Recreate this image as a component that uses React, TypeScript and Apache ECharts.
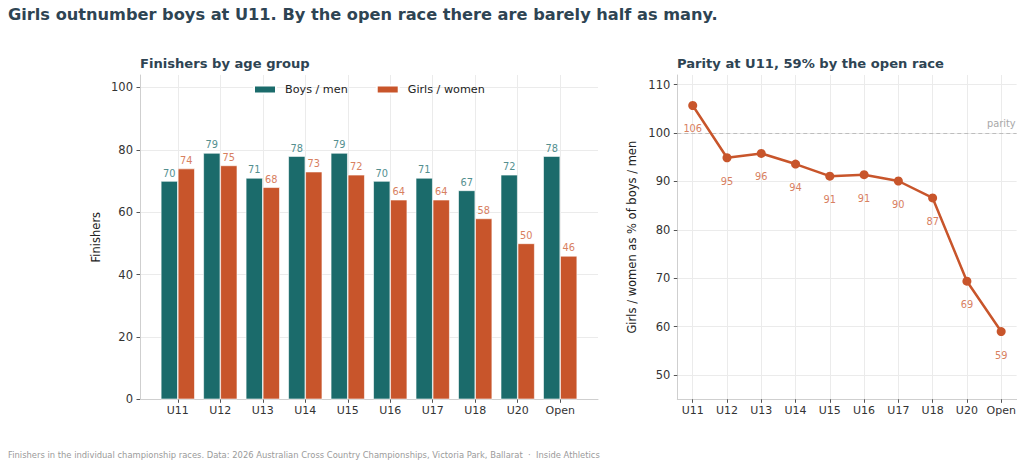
import React, { useEffect, useRef } from 'react';
import * as echarts from 'echarts';

// age groups, boys and girls finishers, and girls as % of boys
const ageGroups = ['U11', 'U12', 'U13', 'U14', 'U15', 'U16', 'U17', 'U18', 'U20', 'Open'];
const boys = [70, 79, 71, 78, 79, 70, 71, 67, 72, 78];
const girls = [74, 75, 68, 73, 72, 64, 64, 58, 50, 46];
const parityPct = [105.7, 94.9, 95.8, 93.6, 91.1, 91.4, 90.1, 86.6, 69.4, 59.0];
const countTicks = [0, 20, 40, 60, 80, 100];
const pctTicks = [50, 60, 70, 80, 90, 100, 110];

const TEAL = '#1b6b6b';
const ORANGE = '#c8552b';
const FONT = 'DejaVu Sans';
const GRID = '#ebebeb';
const SPINE = '#cfcfcf';
const INK = '#2e4453';

const catIdx = ageGroups.map((_, i) => i);

const App: React.FC = () => {
  const chartRef = useRef<HTMLDivElement | null>(null);

  useEffect(() => {
    document.body.style.margin = '0';
    if (!chartRef.current) return;
    const chart = echarts.init(chartRef.current, undefined, { renderer: 'svg' });

    const xAxisBase = (gridIndex: number, min: number, max: number) => ({
      type: 'value',
      gridIndex,
      min,
      max,
      axisLine: { show: true, onZero: false, lineStyle: { color: SPINE, width: 1 } },
      axisTick: { show: true, customValues: catIdx, length: 3.5, lineStyle: { color: '#555' } },
      axisLabel: {
        customValues: catIdx,
        formatter: (v: number) => ageGroups[Math.round(v)],
        fontFamily: FONT,
        fontSize: 11,
        color: '#333',
        margin: 6,
      },
      splitLine: { show: false },
    });

    const yAxisBase = (gridIndex: number, min: number, max: number, ticks: number[], name: string, nameGap: number) => ({
      type: 'value',
      gridIndex,
      min,
      max,
      name,
      nameLocation: 'middle',
      nameGap,
      nameTextStyle: { fontFamily: FONT, fontSize: 11.5, color: '#222' },
      axisLine: { show: true, onZero: false, lineStyle: { color: SPINE, width: 1 } },
      axisTick: { show: true, customValues: ticks, length: 3.5, lineStyle: { color: '#555' } },
      axisLabel: { customValues: ticks, fontFamily: FONT, fontSize: 11.5, color: '#333', margin: 7 },
      splitLine: { show: true, lineStyle: { color: GRID, width: 1 } },
    });

    const vGrid = {
      silent: true,
      z: 0,
      symbol: 'none',
      label: { show: false },
      lineStyle: { color: GRID, type: 'solid', width: 1 },
      data: catIdx.map((i) => ({ xAxis: i })),
    };

    const option = {
      animation: false,
      backgroundColor: '#fff',
      textStyle: { fontFamily: FONT },
      title: [
        {
          text: 'Girls outnumber boys at U11. By the open race there are barely half as many.',
          left: 8,
          top: 6,
          padding: 0,
          textStyle: { fontFamily: FONT, fontSize: 16.2, fontWeight: 'bold', color: INK },
        },
        {
          text: 'Finishers by age group',
          left: 140,
          top: 57,
          padding: 0,
          textStyle: { fontFamily: FONT, fontSize: 13.1, fontWeight: 'bold', color: INK },
        },
        {
          text: 'Parity at U11, 59% by the open race',
          left: 677,
          top: 57,
          padding: 0,
          textStyle: { fontFamily: FONT, fontSize: 13.1, fontWeight: 'bold', color: INK },
        },
        {
          text: 'Finishers in the individual championship races. Data: 2026 Australian Cross Country Championships, Victoria Park, Ballarat  ·  Inside Athletics',
          left: 8,
          top: 451,
          padding: 0,
          textStyle: { fontFamily: FONT, fontSize: 8.4, fontWeight: 'normal', color: '#9a9a9a' },
        },
      ],
      legend: {
        data: ['Boys / men', 'Girls / women'],
        left: 253,
        top: 84,
        padding: 0,
        icon: 'rect',
        itemWidth: 22,
        itemHeight: 8,
        itemGap: 28,
        textStyle: { fontFamily: FONT, fontSize: 11.2, color: '#222', padding: [0, 0, 0, 4] },
      },
      grid: [
        { left: 140, top: 75, width: 458, height: 324.3 },
        { left: 677.3, top: 75, width: 339.3, height: 324.3 },
      ],
      xAxis: [xAxisBase(0, -0.89, 9.89), xAxisBase(1, -0.45, 9.45)],
      yAxis: [
        yAxisBase(0, 0, 104, countTicks, 'Finishers', 38),
        yAxisBase(1, 45, 112, pctTicks, 'Girls / women as % of boys / men', 39),
      ],
      series: [
        {
          name: 'gridlines-left',
          type: 'line',
          xAxisIndex: 0,
          yAxisIndex: 0,
          data: [],
          z: 0,
          markLine: vGrid,
        },
        {
          name: 'Boys / men',
          type: 'bar',
          xAxisIndex: 0,
          yAxisIndex: 0,
          z: 3,
          barWidth: 17,
          barGap: '0%',
          data: boys.map((v, i) => [i, v]),
          itemStyle: { color: TEAL, borderColor: '#fff', borderWidth: 0.6 },
          label: {
            show: true,
            position: 'top',
            distance: 3,
            formatter: (p: any) => String(p.value[1]),
            fontFamily: FONT,
            fontSize: 9.8,
            color: '#548f8f',
          },
        },
        {
          name: 'Girls / women',
          type: 'bar',
          xAxisIndex: 0,
          yAxisIndex: 0,
          z: 3,
          barWidth: 17,
          barGap: '0%',
          data: girls.map((v, i) => [i, v]),
          itemStyle: { color: ORANGE, borderColor: '#fff', borderWidth: 0.6 },
          label: {
            show: true,
            position: 'top',
            distance: 3,
            formatter: (p: any) => String(p.value[1]),
            fontFamily: FONT,
            fontSize: 9.8,
            color: '#d8805f',
          },
        },
        {
          name: 'gridlines-right',
          type: 'line',
          xAxisIndex: 1,
          yAxisIndex: 1,
          data: [],
          z: 0,
          markLine: {
            ...vGrid,
            data: [
              ...vGrid.data,
              {
                yAxis: 100,
                lineStyle: { color: '#bdbdbd', type: [4, 3], width: 1 },
                label: {
                  show: true,
                  position: 'insideEndTop',
                  formatter: 'parity',
                  fontFamily: FONT,
                  fontSize: 9.8,
                  color: '#a8a8a8',
                  distance: [1, 5],
                },
              },
            ],
          },
        },
        {
          name: 'Parity',
          type: 'line',
          xAxisIndex: 1,
          yAxisIndex: 1,
          z: 3,
          data: parityPct.map((v, i) => [i, v]),
          symbol: 'circle',
          symbolSize: 9,
          lineStyle: { color: ORANGE, width: 2.5 },
          itemStyle: { color: ORANGE },
          label: {
            show: true,
            position: 'bottom',
            distance: 14,
            formatter: (p: any) => String(Math.round(p.value[1])),
            fontFamily: FONT,
            fontSize: 9.8,
            color: '#d8805f',
          },
        },
      ],
    };

    chart.setOption(option as any);
    return () => chart.dispose();
  }, []);

  return <div ref={chartRef} style={{ width: 1024, height: 468 }} />;
};

export default App;
